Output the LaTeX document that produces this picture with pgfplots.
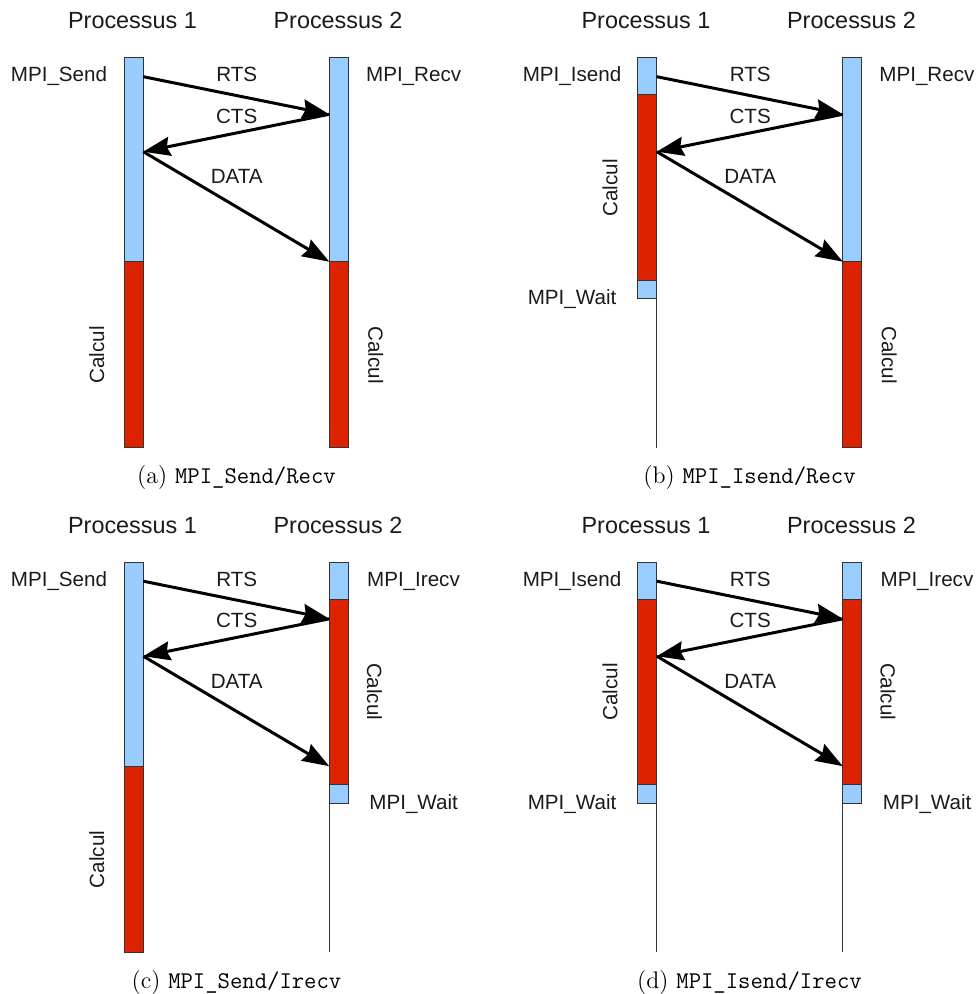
\documentclass[border=0pt]{standalone}
\usepackage{fontspec}
\usepackage{pgfplots}
\pgfplotsset{compat=1.18}
\usetikzlibrary{arrows.meta}
\newfontfamily\lab{Liberation Sans}
\definecolor{cblue}{HTML}{99CCFF}
\definecolor{cred}{HTML}{DD2200}
\definecolor{cedge}{HTML}{333333}
\definecolor{ctext}{HTML}{1A1A1A}
% segment: colour, x1, y1, x2, y2
\newcommand{\seg}[5]{\addplot[fill=#1,draw=cedge,line width=0.5pt,mark=none] coordinates {(#2,#3) (#4,#3) (#4,#5) (#2,#5) (#2,#3)};}
% message arrow
\newcommand{\msg}[4]{\addplot[black,line width=1.5pt,mark=none,-{Stealth[length=13.5pt,width=9.5pt,inset=1.5pt]}] coordinates {(#1,#2) (#3,#4)};}
% thin timeline
\newcommand{\tl}[3]{\addplot[cedge,line width=0.5pt,mark=none] coordinates {(#1,#2) (#1,#3)};}
\newcommand{\pf}{\lab\fontsize{11.7}{14}\selectfont\color{ctext}}
\newcommand{\lf}{\lab\fontsize{10.3}{12}\selectfont\color{ctext}}
\newcommand{\cf}{\fontsize{12}{14}\selectfont}
\begin{document}
\begin{tikzpicture}
\begin{axis}[
  width=489pt, height=497pt, scale only axis, hide axis, clip=false,
  xmin=0, xmax=978, ymin=0, ymax=994, y dir=reverse,
]
% ---------------- (a) MPI_Send/Recv ----------------
\seg{cblue}{124.3}{57.5}{143.3}{261.7}
\seg{cred}{124.3}{261.7}{143.3}{447.5}
\seg{cblue}{329.3}{57.5}{348.3}{261.7}
\seg{cred}{329.3}{261.7}{348.3}{447.5}
\msg{143.3}{76.7}{329.3}{114.3}
\msg{329.3}{114.3}{143.3}{151.7}
\msg{143.3}{151.7}{329.3}{261.7}
% ---------------- (b) MPI_Isend/Recv ----------------
\seg{cblue}{637.8}{57.5}{656.8}{95}
\seg{cred}{637.8}{95}{656.8}{280.7}
\seg{cblue}{637.8}{280.7}{656.8}{299}
\tl{656.8}{299}{447.5}
\seg{cblue}{842.8}{57.5}{861.8}{261.7}
\seg{cred}{842.8}{261.7}{861.8}{447.5}
\msg{656.8}{76.7}{842.8}{114.3}
\msg{842.8}{114.3}{656.8}{151.7}
\msg{656.8}{151.7}{842.8}{261.7}
% ---------------- (c) MPI_Send/Irecv ----------------
\seg{cblue}{124.3}{562}{143.3}{766.2}
\seg{cred}{124.3}{766.2}{143.3}{952}
\seg{cblue}{329.3}{562}{348.3}{599}
\seg{cred}{329.3}{599}{348.3}{784.7}
\seg{cblue}{329.3}{784.7}{348.3}{803}
\tl{329.3}{803}{952}
\msg{143.3}{581.2}{329.3}{618.8}
\msg{329.3}{618.8}{143.3}{656.2}
\msg{143.3}{656.2}{329.3}{766.2}
% ---------------- (d) MPI_Isend/Irecv ----------------
\seg{cblue}{637.8}{562}{656.8}{599}
\seg{cred}{637.8}{599}{656.8}{784.7}
\seg{cblue}{637.8}{784.7}{656.8}{803}
\tl{656.8}{803}{952}
\seg{cblue}{842.8}{562}{861.8}{599}
\seg{cred}{842.8}{599}{861.8}{784.7}
\seg{cblue}{842.8}{784.7}{861.8}{803}
\tl{842.8}{803}{952}
\msg{656.8}{581.2}{842.8}{618.8}
\msg{842.8}{618.8}{656.8}{656.2}
\msg{656.8}{656.2}{842.8}{766.2}
% ---------------- texts ----------------
\node[anchor=base,font=\pf] at (axis cs:132.5,28.5) {Processus 1};
\node[anchor=base,font=\pf] at (axis cs:338,28.5) {Processus 2};
\node[anchor=base,font=\pf] at (axis cs:646,28.5) {Processus 1};
\node[anchor=base,font=\pf] at (axis cs:851.5,28.5) {Processus 2};
\node[anchor=base,font=\pf] at (axis cs:132.5,533) {Processus 1};
\node[anchor=base,font=\pf] at (axis cs:338,533) {Processus 2};
\node[anchor=base,font=\pf] at (axis cs:646,533) {Processus 1};
\node[anchor=base,font=\pf] at (axis cs:851.5,533) {Processus 2};
\foreach \dx/\dy in {0/0, 513.5/0, 0/504.5, 513.5/504.5}{
  \edef\tmp{\noexpand\node[anchor=base,font=\noexpand\lf] at (axis cs:{236.7+\dx},{81.7+\dy}) {RTS};
    \noexpand\node[anchor=base,font=\noexpand\lf] at (axis cs:{236.7+\dx},{123.3+\dy}) {CTS};
    \noexpand\node[anchor=base,font=\noexpand\lf] at (axis cs:{236.7+\dx},{184+\dy}) {DATA};}
  \tmp
}
% (a)
\node[anchor=base east,inner sep=0pt,font=\lf] at (axis cs:107.5,81.7) {MPI\_Send};
\node[anchor=base west,inner sep=0pt,font=\lf] at (axis cs:365.7,81.7) {MPI\_Recv};
\node[rotate=90,font=\lf] at (axis cs:96.7,355) {Calcul};
\node[rotate=-90,font=\lf] at (axis cs:375.7,355) {Calcul};
\node[anchor=base,font=\cf] at (axis cs:236.5,483.5) {(a) \texttt{MPI\_Send/Recv}};
% (b)
\node[anchor=base east,inner sep=0pt,font=\lf] at (axis cs:621.7,81.7) {MPI\_Isend};
\node[anchor=base west,inner sep=0pt,font=\lf] at (axis cs:879,81.7) {MPI\_Recv};
\node[rotate=90,font=\lf] at (axis cs:610,188) {Calcul};
\node[anchor=base east,inner sep=0pt,font=\lf] at (axis cs:616.7,305) {MPI\_Wait};
\node[rotate=-90,font=\lf] at (axis cs:889.2,355) {Calcul};
\node[anchor=base,font=\cf] at (axis cs:749.5,483.5) {(b) \texttt{MPI\_Isend/Recv}};
% (c)
\node[anchor=base east,inner sep=0pt,font=\lf] at (axis cs:107.5,586.2) {MPI\_Send};
\node[anchor=base west,inner sep=0pt,font=\lf] at (axis cs:366.7,586.2) {MPI\_Irecv};
\node[rotate=90,font=\lf] at (axis cs:96.7,859.5) {Calcul};
\node[rotate=-90,font=\lf] at (axis cs:374.5,691.7) {Calcul};
\node[anchor=base west,inner sep=0pt,font=\lf] at (axis cs:369,809.5) {MPI\_Wait};
\node[anchor=base,font=\cf] at (axis cs:236.5,988) {(c) \texttt{MPI\_Send/Irecv}};
% (d)
\node[anchor=base east,inner sep=0pt,font=\lf] at (axis cs:621.7,586.2) {MPI\_Isend};
\node[rotate=90,font=\lf] at (axis cs:610,692) {Calcul};
\node[anchor=base east,inner sep=0pt,font=\lf] at (axis cs:616.7,809.5) {MPI\_Wait};
\node[anchor=base west,inner sep=0pt,font=\lf] at (axis cs:880.2,586.2) {MPI\_Irecv};
\node[rotate=-90,font=\lf] at (axis cs:888,691.7) {Calcul};
\node[anchor=base west,inner sep=0pt,font=\lf] at (axis cs:882.5,809.5) {MPI\_Wait};
\node[anchor=base,font=\cf] at (axis cs:749.5,988) {(d) \texttt{MPI\_Isend/Irecv}};
\end{axis}
\pgfresetboundingbox
\path (current axis.south west) rectangle (current axis.north east);
\end{tikzpicture}
\end{document}
